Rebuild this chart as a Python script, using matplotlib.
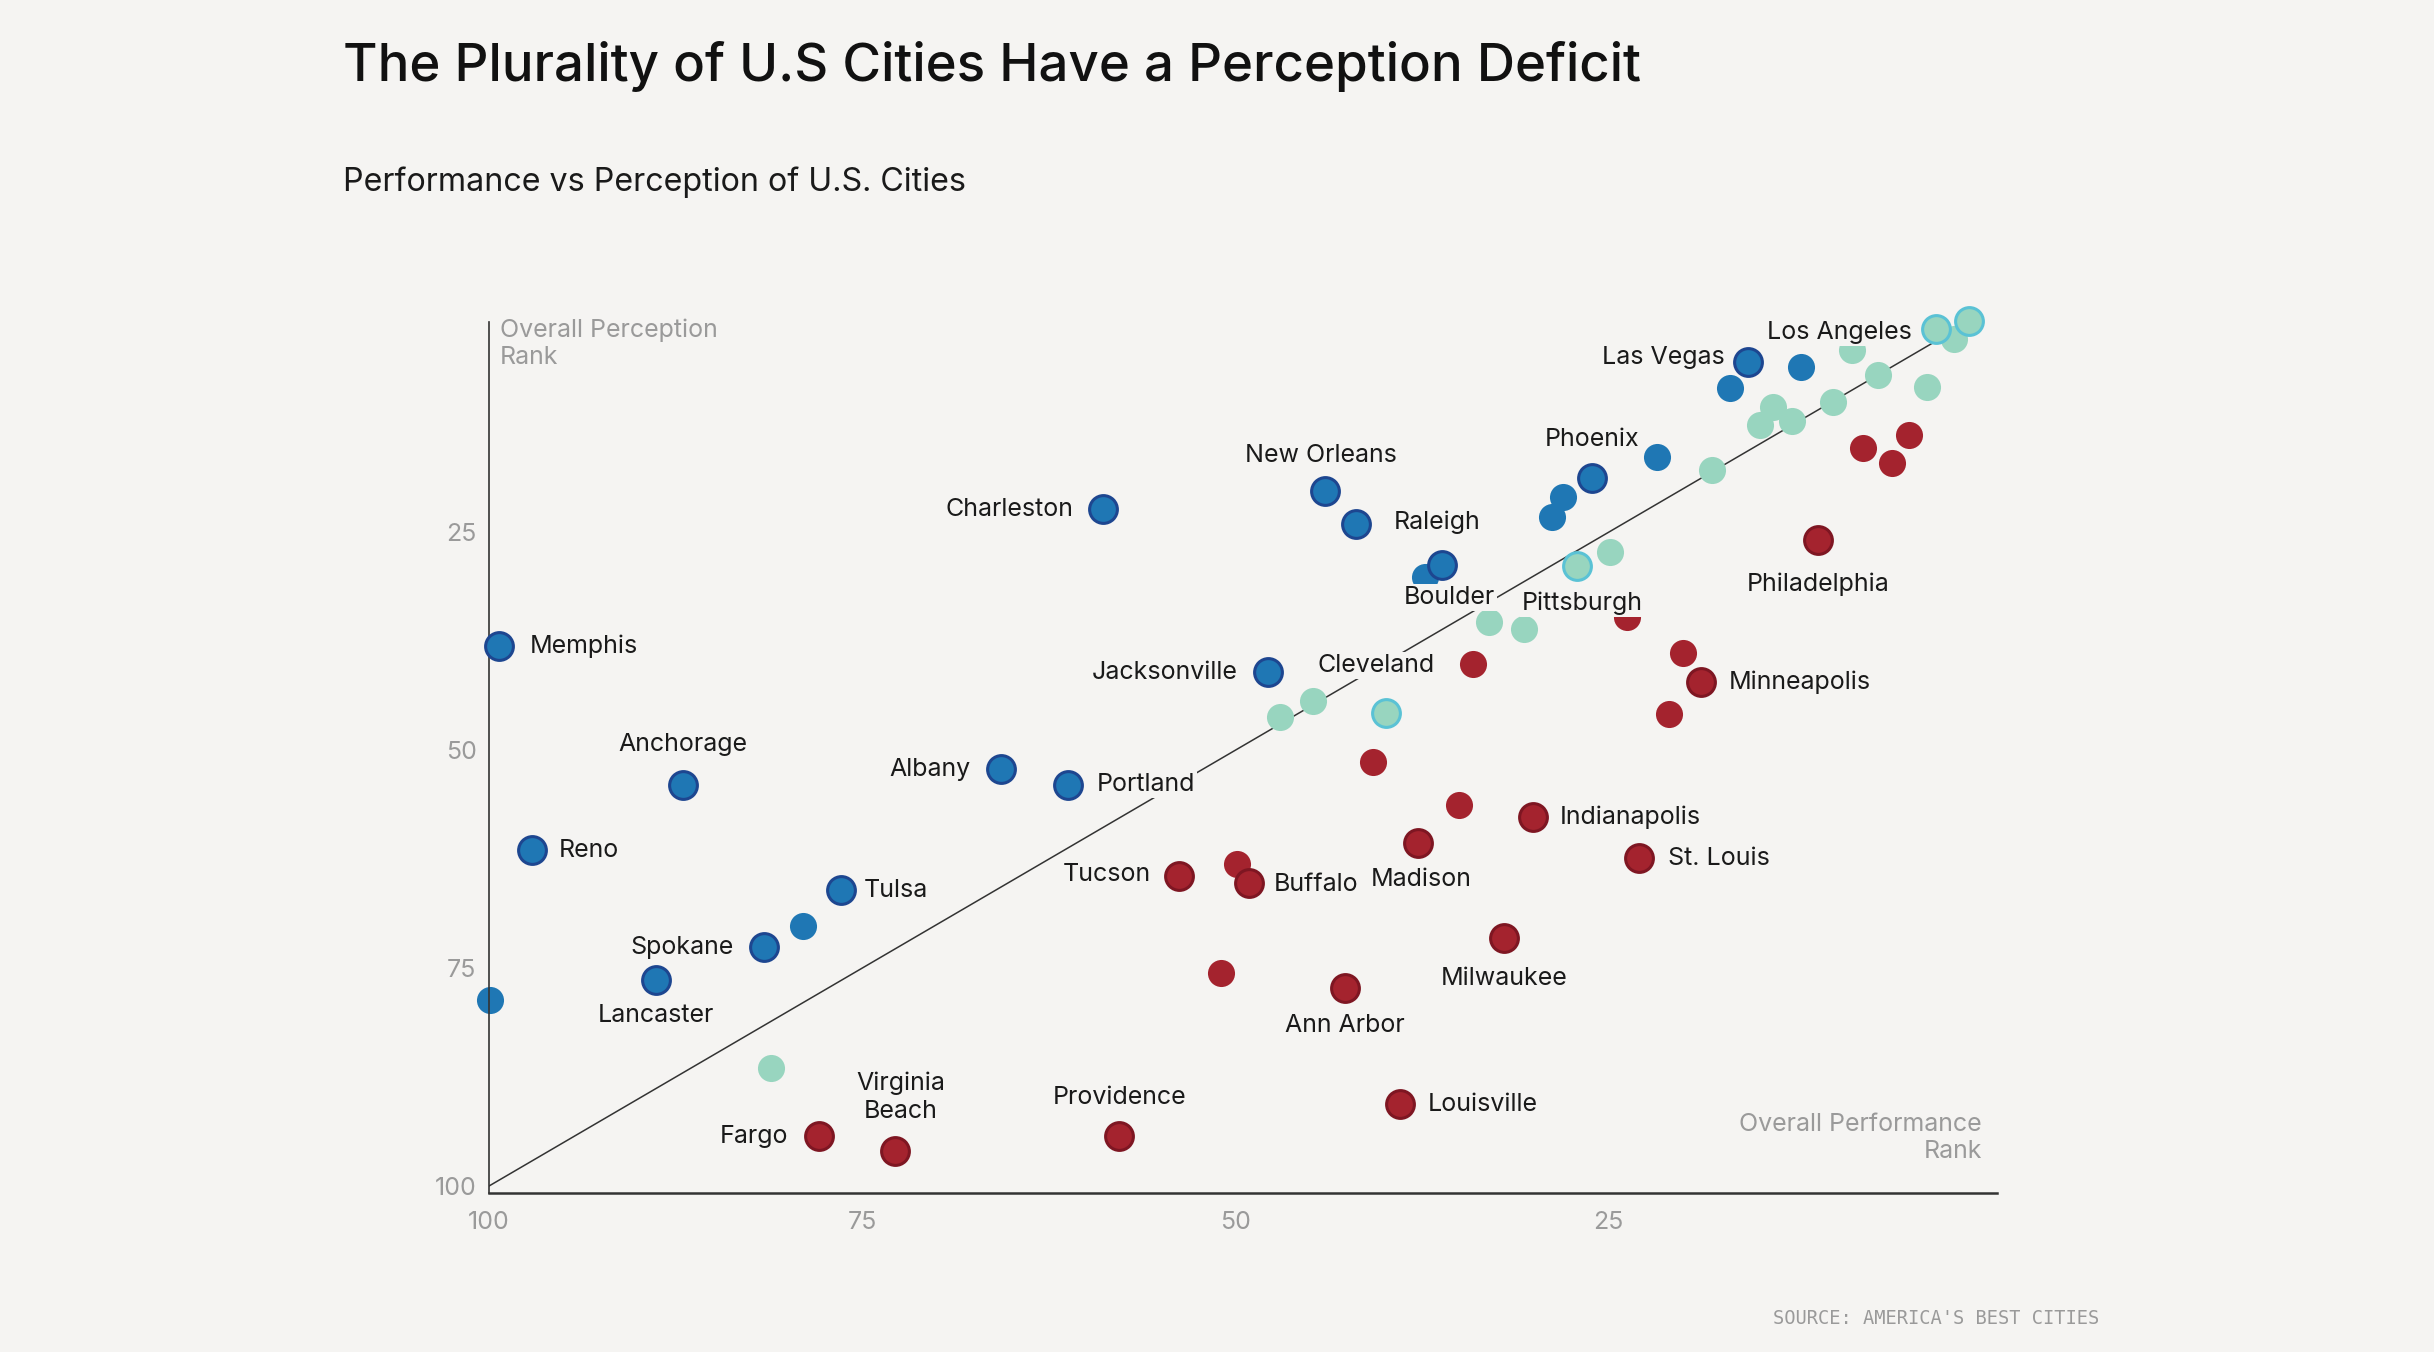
import matplotlib
matplotlib.use("Agg")
import matplotlib.pyplot as plt

BG = "#f5f4f2"
W, H = 2434, 1352

# overall performance rank (x), overall perception rank (y), label ("" = none)
blue_perf = [99.3, 58.9, 44.0, 41.9, 15.7, 12.1, 16.9, 21.8, 26.1, 28.1, 28.8, 37.3,
             36.2, 47.8, 65.7, 61.2, 87.0, 97.1, 76.4, 79.0, 81.6, 88.8, 99.9]
blue_perc = [38.1, 22.4, 20.3, 24.1, 5.5, 6.1, 8.5, 16.4, 18.8, 21.0, 23.3, 30.2,
             28.8, 41.1, 52.2, 54.0, 54.0, 61.5, 66.1, 70.2, 72.6, 76.4, 78.7]
blue_city = ["Memphis", "Charleston", "New Orleans", "Raleigh", "Las Vegas", "", "", "",
             "Phoenix", "", "", "", "Boulder", "Jacksonville", "Albany", "Portland",
             "Anchorage", "Reno", "Tulsa", "", "Spokane", "Lancaster", ""]

teal_perf = [0.9, 3.1, 1.9, 8.7, 7.0, 3.7, 10.0, 14.0, 12.7, 14.9, 18.1, 24.9, 27.1,
             33.0, 30.7, 44.8, 47.0, 39.9, 81.1]
teal_perc = [0.8, 1.7, 2.8, 4.1, 7.0, 8.4, 10.1, 10.7, 12.2, 12.7, 17.9, 27.3, 28.9,
             35.3, 36.1, 44.4, 46.2, 45.8, 86.5]
teal_city = ["New York", "Los Angeles", "", "", "", "", "", "", "", "", "", "",
             "Pittsburgh", "", "", "", "", "Cleveland", ""]

red_perf = [4.9, 8.0, 6.0, 11.0, 23.8, 20.0, 18.8, 21.0, 34.1, 40.8, 35.0, 30.1, 37.8,
            23.0, 53.8, 49.9, 49.1, 32.0, 51.0, 42.7, 39.0, 77.9, 72.8, 57.8]
red_perc = [13.9, 15.3, 17.1, 25.9, 34.7, 38.9, 42.2, 45.9, 40.1, 51.4, 56.3, 57.7, 60.7,
            62.4, 64.4, 63.1, 65.3, 71.6, 75.6, 77.3, 90.6, 94.3, 96.0, 94.3]
red_city = ["", "", "", "Philadelphia", "", "", "Minneapolis", "", "", "", "",
            "Indianapolis", "Madison", "St. Louis", "Tucson", "", "Buffalo", "Milwaukee",
            "", "Ann Arbor", "Louisville", "Fargo", "Virginia\nBeach", "Providence"]

ticks = [25, 50, 75, 100]

# label placement: pixel offset from the dot (x right, y up) and alignment
LABEL_POS = {
    "Memphis": (30, 0, "left"), "Charleston": (-29, 0, "right"),
    "New Orleans": (-4, 36, "center"), "Raleigh": (37, 2, "left"),
    "Las Vegas": (-23, 5, "right"), "Los Angeles": (-24, -4, "right"),
    "New York": (-3, -39, "center"), "Phoenix": (0, 39, "center"),
    "Boulder": (8, -32, "center"), "Pittsburgh": (5, -37, "center"),
    "Philadelphia": (0, -44, "center"), "Jacksonville": (-31, 0, "right"),
    "Cleveland": (-10, 48, "center"), "Minneapolis": (27, 0, "left"),
    "Albany": (-31, 0, "right"), "Portland": (28, 0, "left"),
    "Anchorage": (0, 40, "center"), "Reno": (26, 0, "left"),
    "Tulsa": (22, 0, "left"), "Spokane": (-30, 0, "right"),
    "Lancaster": (0, -35, "center"), "Indianapolis": (27, 0, "left"),
    "St. Louis": (29, 0, "left"), "Madison": (3, -36, "center"),
    "Tucson": (-28, 1, "right"), "Buffalo": (25, -1, "left"),
    "Milwaukee": (0, -40, "center"), "Ann Arbor": (0, -37, "center"),
    "Louisville": (28, 0, "left"), "Fargo": (-31, 0, "right"),
    "Virginia\nBeach": (6, 54, "center"), "Providence": (0, 39, "center"),
}

plt.rcParams["font.family"] = ["Inter", "DejaVu Sans"]

fig = plt.figure(figsize=(W / 100, H / 100), dpi=100, facecolor=BG)
ax = fig.add_axes([489 / W, 159 / H, (1997 - 489) / W, (1193 - 322) / H])
ax.set_facecolor(BG)

ax.plot([100, 2], [100, 2], color="#333333", lw=1.1, zorder=1)

groups = [
    (blue_perf, blue_perc, blue_city, "#1f77b4", "#1d4690"),
    (teal_perf, teal_perc, teal_city, "#98d5bf", "#5ac2d5"),
    (red_perf, red_perc, red_city, "#a4232e", "#7e1622"),
]

for xs, ys, names, fill, edge in groups:
    plain = [i for i, n in enumerate(names) if not n]
    named = [i for i, n in enumerate(names) if n]
    ax.scatter([xs[i] for i in plain], [ys[i] for i in plain], s=380, c=fill,
               linewidths=0, zorder=2, clip_on=False)
    ax.scatter([xs[i] for i in named], [ys[i] for i in named], s=400, c=fill,
               edgecolors=edge, linewidths=2.2, zorder=3, clip_on=False)
    for i in named:
        dx, dy, ha = LABEL_POS[names[i]]
        ax.annotate(names[i], (xs[i], ys[i]), xytext=(dx, dy), textcoords="offset pixels",
                    ha=ha, va="center", fontsize=18, color="#1a1a1a",
                    linespacing=1.25, zorder=5,
                    bbox=dict(boxstyle="square,pad=0.08", fc=BG, ec="none"))

ax.set_xlim(100, -1.0)
ax.set_ylim(100.8, 0.9)
ax.set_xticks(ticks)
ax.set_yticks(ticks)
ax.tick_params(length=0, labelsize=18, labelcolor="#9a9a9a")
ax.tick_params(axis="y", pad=9)
ax.tick_params(axis="x", pad=13)
for side in ["top", "right"]:
    ax.spines[side].set_visible(False)
ax.spines["left"].set_color("#333333")
ax.spines["left"].set_linewidth(1.2)
ax.spines["bottom"].set_color("#333333")
ax.spines["bottom"].set_linewidth(1.8)

fig.text(343 / W, 1 - 67 / H, "The Plurality of U.S Cities Have a Perception Deficit",
         fontsize=38, fontweight="medium", color="#111111", va="center", ha="left")
fig.text(343 / W, 1 - 182 / H, "Performance vs Perception of U.S. Cities",
         fontsize=23.2, color="#1a1a1a", va="center", ha="left")
fig.text(500 / W, 1 - 318 / H, "Overall Perception\nRank", fontsize=18,
         color="#9a9a9a", va="top", ha="left", linespacing=1.25)
fig.text(1982 / W, 1 - 1138 / H, "Overall Performance\nRank", fontsize=18,
         color="#9a9a9a", va="center", ha="right", multialignment="right",
         linespacing=1.25)
fig.text(2099 / W, 1 - 1318 / H, "SOURCE: AMERICA'S BEST CITIES", fontsize=13.5,
         family=["DejaVu Sans Mono"], color="#9a9a9a", va="center", ha="right")

fig.savefig("out.png", dpi=100, facecolor=BG)
